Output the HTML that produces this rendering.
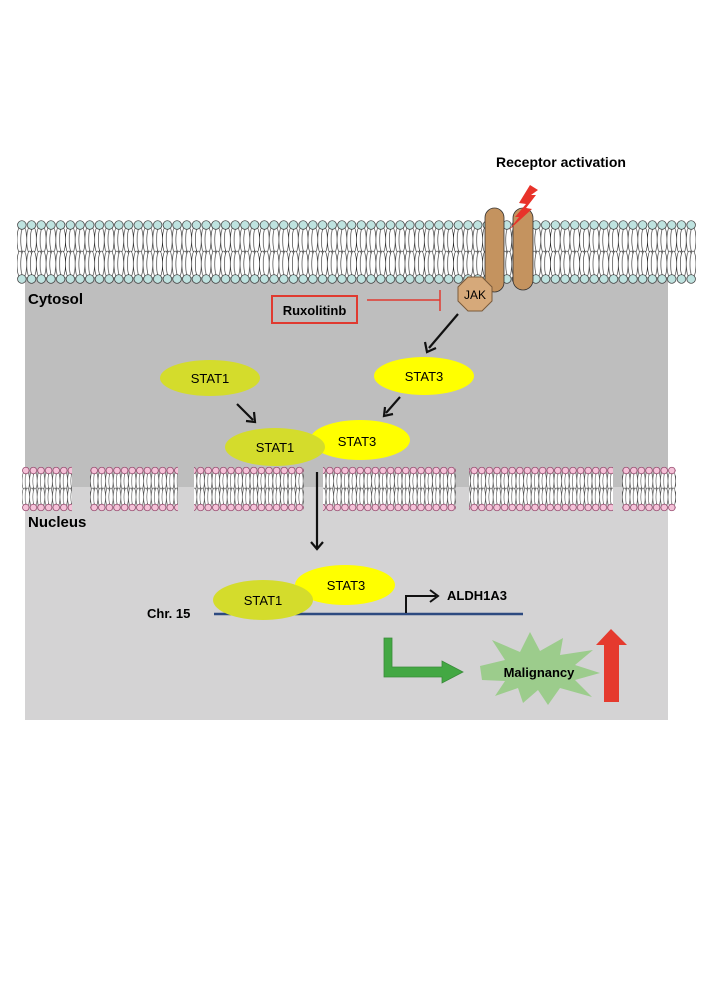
<!DOCTYPE html>
<html><head><meta charset="utf-8"><style>
html,body{margin:0;padding:0;background:#fff;}
svg{display:block;}
text{font-family:"Liberation Sans",Arial,sans-serif;}
</style></head><body>
<svg width="707" height="1000" viewBox="0 0 707 1000" xmlns="http://www.w3.org/2000/svg">
<defs>
<pattern id="lip" x="17" y="220" width="9.7" height="64" patternUnits="userSpaceOnUse">
<ellipse cx="3" cy="20" rx="3" ry="13" fill="#fff" stroke="#222" stroke-width="0.6"/>
<ellipse cx="6.7" cy="20" rx="3" ry="13" fill="#fff" stroke="#222" stroke-width="0.6"/>
<ellipse cx="3" cy="44" rx="3" ry="13" fill="#fff" stroke="#222" stroke-width="0.6"/>
<ellipse cx="6.7" cy="44" rx="3" ry="13" fill="#fff" stroke="#222" stroke-width="0.6"/>
<circle cx="4.85" cy="5" r="4.3" fill="#bfe3e0" stroke="#333" stroke-width="0.7"/>
<circle cx="4.85" cy="59" r="4.3" fill="#bfe3e0" stroke="#333" stroke-width="0.7"/>
</pattern>
<pattern id="nlip" x="22" y="466" width="7.6" height="46" patternUnits="userSpaceOnUse">
<ellipse cx="2.2" cy="15" rx="2.2" ry="9" fill="#fff" stroke="#333" stroke-width="0.5"/>
<ellipse cx="5.4" cy="15" rx="2.2" ry="9" fill="#fff" stroke="#333" stroke-width="0.5"/>
<ellipse cx="2.2" cy="31" rx="2.2" ry="9" fill="#fff" stroke="#333" stroke-width="0.5"/>
<ellipse cx="5.4" cy="31" rx="2.2" ry="9" fill="#fff" stroke="#333" stroke-width="0.5"/>
<circle cx="3.8" cy="4.5" r="3.3" fill="#f4c2d8" stroke="#8a3a60" stroke-width="0.7"/>
<circle cx="3.8" cy="41.5" r="3.3" fill="#f4c2d8" stroke="#8a3a60" stroke-width="0.7"/>
</pattern>
</defs>
<rect x="25" y="277" width="643" height="210" fill="#bebebe"/>
<rect x="25" y="487" width="643" height="233" fill="#d4d3d4"/>
<rect x="17" y="220" width="679" height="64" fill="url(#lip)"/>
<rect x="22" y="466" width="50" height="46" fill="url(#nlip)"/>
<rect x="90" y="466" width="88" height="46" fill="url(#nlip)"/>
<rect x="194" y="466" width="110" height="46" fill="url(#nlip)"/>
<rect x="323" y="466" width="133" height="46" fill="url(#nlip)"/>
<rect x="469" y="466" width="144" height="46" fill="url(#nlip)"/>
<rect x="622" y="466" width="54" height="46" fill="url(#nlip)"/>
<rect x="485" y="208" width="19" height="84" rx="9.5" fill="#c4935f" stroke="#333" stroke-width="0.8"/>
<rect x="513" y="208" width="20" height="82" rx="10" fill="#c4935f" stroke="#333" stroke-width="0.8"/>
<polygon points="530,185 519,203 526,204 515,217 519,217 509,230 532,209 526,208 536,195 531,195 538,190" fill="#e8332a"/>
<text x="496" y="167" font-size="14" font-weight="bold">Receptor activation</text>
<polygon points="468,277 482,277 492,287 492,301 482,311 468,311 458,301 458,287" fill="#d6a97a" stroke="#7a5a3a" stroke-width="1"/>
<text x="475" y="299" font-size="12" text-anchor="middle">JAK</text>
<text x="28" y="304" font-size="15" font-weight="bold">Cytosol</text>
<rect x="272" y="296" width="85" height="27" fill="none" stroke="#e03a30" stroke-width="2"/>
<text x="314.5" y="315" font-size="13" font-weight="bold" text-anchor="middle">Ruxolitinb</text>
<line x1="367" y1="300" x2="440" y2="300" stroke="#e03a30" stroke-width="1.5"/>
<line x1="440" y1="290" x2="440" y2="311" stroke="#e03a30" stroke-width="1.5"/>
<g stroke="#111" stroke-width="2.2" fill="none">
<line x1="458" y1="314" x2="429" y2="348"/>
<polyline points="425,342 427,352 436,348"/>
<line x1="237" y1="404" x2="253" y2="420"/>
<polyline points="254,412 255,422 246,421"/>
<line x1="400" y1="397" x2="386" y2="413"/>
<polyline points="393,414 384,416 385,407"/>
<line x1="317" y1="472" x2="317" y2="548"/>
<polyline points="311,542 317,549 323,542"/>
</g>
<ellipse cx="210" cy="378" rx="50" ry="18" fill="#d4dc2c"/>
<text x="210" y="383" font-size="13" text-anchor="middle">STAT1</text>
<ellipse cx="424" cy="376" rx="50" ry="19" fill="#ffff00"/>
<text x="424" y="381" font-size="13" text-anchor="middle">STAT3</text>
<ellipse cx="360" cy="440" rx="50" ry="20" fill="#ffff00"/>
<text x="357" y="446" font-size="13" text-anchor="middle">STAT3</text>
<ellipse cx="275" cy="447" rx="50" ry="19" fill="#d4dc2c"/>
<text x="275" y="452" font-size="13" text-anchor="middle">STAT1</text>
<text x="28" y="527" font-size="15" font-weight="bold">Nucleus</text>
<line x1="214" y1="614" x2="523" y2="614" stroke="#2d4a80" stroke-width="2.5"/>
<ellipse cx="345" cy="585" rx="50" ry="20" fill="#ffff00"/>
<text x="346" y="590" font-size="13" text-anchor="middle">STAT3</text>
<ellipse cx="263" cy="600" rx="50" ry="20" fill="#d4dc2c"/>
<text x="263" y="605" font-size="13" text-anchor="middle">STAT1</text>
<text x="147" y="618" font-size="13" font-weight="bold">Chr. 15</text>
<polyline points="406,613 406,596 436,596" fill="none" stroke="#111" stroke-width="2"/>
<polyline points="430,590 438,596 430,602" fill="none" stroke="#111" stroke-width="2"/>
<text x="447" y="600" font-size="13" font-weight="bold">ALDH1A3</text>
<polygon points="384,638 392,638 392,667 442,667 442,661 463,672 442,683 442,677 384,677" fill="#43a843" stroke="#3a8a3a" stroke-width="0.8"/>
<polygon points="480,666 505,660 492,640 520,652 530,632 540,651 563,638 560,655 593,650 575,665 600,673 575,680 592,697 560,688 548,705 538,690 523,703 518,688 495,696 505,681 482,680" fill="#9ccc8c"/>
<text x="539" y="677" font-size="13" font-weight="bold" text-anchor="middle">Malignancy</text>
<polygon points="611,629 627,645 619,645 619,702 604,702 604,645 596,645" fill="#e53a2e"/>
</svg>
</body></html>
